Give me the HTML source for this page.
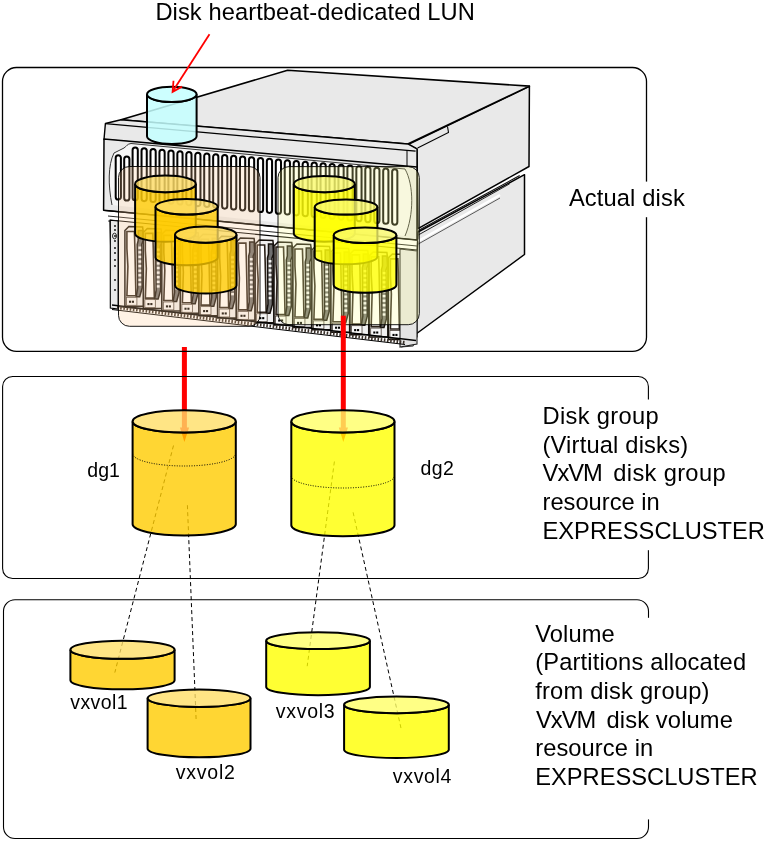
<!DOCTYPE html>
<html><head><meta charset="utf-8"><style>
html,body{margin:0;padding:0;background:#fff;width:766px;height:841px;overflow:hidden}
svg{display:block;will-change:transform}
</style></head><body>
<svg width="766" height="841" viewBox="0 0 766 841">
<g><polygon points="408.5,144.2 529.4,86.3 529,166.5 418,228.6 417,149" fill="#e9e9e9" stroke="#000" stroke-width="1.5" stroke-linejoin="round"/><polygon points="418,232 524.5,174.7 524.5,254.5 413.3,336" fill="#e9e9e9" stroke="#000" stroke-width="1.5" stroke-linejoin="round"/><polyline points="418.3,230.4 519.7,175.6" fill="none" stroke="#111" stroke-width="1.1"/><polyline points="418.3,235 509.7,183.8" fill="none" stroke="#222" stroke-width="1"/><polyline points="418.3,241 500,195" fill="none" stroke="#fff" stroke-width="2.5"/><polyline points="418.3,244 500,198" fill="none" stroke="#333" stroke-width="0.8"/><polygon points="401,326 413.3,324 413.3,346 401,347" fill="#e6e6e6" stroke="#333" stroke-width="1"/><polygon points="121,119.7 287.6,70.3 529.4,86.1 407.8,144" fill="#e9e9e9" stroke="#000" stroke-width="1.6" stroke-linejoin="round"/><polyline points="417.6,148 448.5,132.5 447.5,126.5" fill="none" stroke="#000" stroke-width="1.1"/><polygon points="105.4,123.5 121,119.7 407.8,144 417,149 417,168 104,139.5" fill="#e9e9e9" stroke="#000" stroke-width="1.4" stroke-linejoin="round"/><line x1="105.4" y1="123.7" x2="415.6" y2="151.2" stroke="#000" stroke-width="1.3"/><line x1="407" y1="150" x2="407" y2="166" stroke="#000" stroke-width="1"/><polygon points="104,139 417,167 417,240 103.6,210.3" fill="#e9e9e9" stroke="#000" stroke-width="1.5" stroke-linejoin="round"/><path d="M112,205 C108,185 108,165 114,153 L124,148 C127,146 127,144 131,143.5 L405,169 C414,185 414,215 405,236" fill="#f6f6f6" stroke="#333" stroke-width="1"/><path d="M115.70,196.90 L115.70,157.80 A2.60,2.60 0 0 1 120.90,157.80 L120.90,196.90 A2.60,2.60 0 0 1 115.70,196.90 Z" fill="#fff" stroke="#000" stroke-width="2.0"/><path d="M124.20,197.90 L124.20,159.10 A2.60,2.60 0 0 1 129.40,159.10 L129.40,197.90 A2.60,2.60 0 0 1 124.20,197.90 Z" fill="#fff" stroke="#000" stroke-width="2.0"/><path d="M132.60,197.70 L132.60,150.00 A2.60,2.60 0 0 1 137.80,150.00 L137.80,197.70 A2.60,2.60 0 0 1 132.60,197.70 Z" fill="#fff" stroke="#000" stroke-width="2.0"/><path d="M141.55,198.54 L141.55,150.75 A2.60,2.60 0 0 1 146.75,150.75 L146.75,198.54 A2.60,2.60 0 0 1 141.55,198.54 Z" fill="#fff" stroke="#000" stroke-width="2.0"/><path d="M150.50,199.38 L150.50,151.50 A2.60,2.60 0 0 1 155.70,151.50 L155.70,199.38 A2.60,2.60 0 0 1 150.50,199.38 Z" fill="#fff" stroke="#000" stroke-width="2.0"/><path d="M159.45,200.22 L159.45,152.26 A2.60,2.60 0 0 1 164.65,152.26 L164.65,200.22 A2.60,2.60 0 0 1 159.45,200.22 Z" fill="#fff" stroke="#000" stroke-width="2.0"/><path d="M168.40,201.07 L168.40,153.01 A2.60,2.60 0 0 1 173.60,153.01 L173.60,201.07 A2.60,2.60 0 0 1 168.40,201.07 Z" fill="#fff" stroke="#000" stroke-width="2.0"/><path d="M177.35,201.91 L177.35,153.76 A2.60,2.60 0 0 1 182.55,153.76 L182.55,201.91 A2.60,2.60 0 0 1 177.35,201.91 Z" fill="#fff" stroke="#000" stroke-width="2.0"/><path d="M186.30,202.75 L186.30,154.51 A2.60,2.60 0 0 1 191.50,154.51 L191.50,202.75 A2.60,2.60 0 0 1 186.30,202.75 Z" fill="#fff" stroke="#000" stroke-width="2.0"/><path d="M195.25,203.59 L195.25,155.26 A2.60,2.60 0 0 1 200.45,155.26 L200.45,203.59 A2.60,2.60 0 0 1 195.25,203.59 Z" fill="#fff" stroke="#000" stroke-width="2.0"/><path d="M204.20,204.43 L204.20,156.01 A2.60,2.60 0 0 1 209.40,156.01 L209.40,204.43 A2.60,2.60 0 0 1 204.20,204.43 Z" fill="#fff" stroke="#000" stroke-width="2.0"/><path d="M213.15,205.27 L213.15,156.77 A2.60,2.60 0 0 1 218.35,156.77 L218.35,205.27 A2.60,2.60 0 0 1 213.15,205.27 Z" fill="#fff" stroke="#000" stroke-width="2.0"/><path d="M222.10,206.11 L222.10,157.52 A2.60,2.60 0 0 1 227.30,157.52 L227.30,206.11 A2.60,2.60 0 0 1 222.10,206.11 Z" fill="#fff" stroke="#000" stroke-width="2.0"/><path d="M231.05,206.95 L231.05,158.27 A2.60,2.60 0 0 1 236.25,158.27 L236.25,206.95 A2.60,2.60 0 0 1 231.05,206.95 Z" fill="#fff" stroke="#000" stroke-width="2.0"/><path d="M240.00,207.80 L240.00,159.02 A2.60,2.60 0 0 1 245.20,159.02 L245.20,207.80 A2.60,2.60 0 0 1 240.00,207.80 Z" fill="#fff" stroke="#000" stroke-width="2.0"/><path d="M248.95,208.64 L248.95,159.77 A2.60,2.60 0 0 1 254.15,159.77 L254.15,208.64 A2.60,2.60 0 0 1 248.95,208.64 Z" fill="#fff" stroke="#000" stroke-width="2.0"/><path d="M257.90,209.48 L257.90,160.53 A2.60,2.60 0 0 1 263.10,160.53 L263.10,209.48 A2.60,2.60 0 0 1 257.90,209.48 Z" fill="#fff" stroke="#000" stroke-width="2.0"/><path d="M266.85,210.32 L266.85,161.28 A2.60,2.60 0 0 1 272.05,161.28 L272.05,210.32 A2.60,2.60 0 0 1 266.85,210.32 Z" fill="#fff" stroke="#000" stroke-width="2.0"/><path d="M275.80,211.16 L275.80,162.03 A2.60,2.60 0 0 1 281.00,162.03 L281.00,211.16 A2.60,2.60 0 0 1 275.80,211.16 Z" fill="#fff" stroke="#000" stroke-width="2.0"/><path d="M284.75,212.00 L284.75,162.78 A2.60,2.60 0 0 1 289.95,162.78 L289.95,212.00 A2.60,2.60 0 0 1 284.75,212.00 Z" fill="#fff" stroke="#000" stroke-width="2.0"/><path d="M293.70,212.84 L293.70,163.53 A2.60,2.60 0 0 1 298.90,163.53 L298.90,212.84 A2.60,2.60 0 0 1 293.70,212.84 Z" fill="#fff" stroke="#000" stroke-width="2.0"/><path d="M302.65,213.68 L302.65,164.28 A2.60,2.60 0 0 1 307.85,164.28 L307.85,213.68 A2.60,2.60 0 0 1 302.65,213.68 Z" fill="#fff" stroke="#000" stroke-width="2.0"/><path d="M311.60,214.53 L311.60,165.04 A2.60,2.60 0 0 1 316.80,165.04 L316.80,214.53 A2.60,2.60 0 0 1 311.60,214.53 Z" fill="#fff" stroke="#000" stroke-width="2.0"/><path d="M320.55,215.37 L320.55,165.79 A2.60,2.60 0 0 1 325.75,165.79 L325.75,215.37 A2.60,2.60 0 0 1 320.55,215.37 Z" fill="#fff" stroke="#000" stroke-width="2.0"/><path d="M329.50,216.21 L329.50,166.54 A2.60,2.60 0 0 1 334.70,166.54 L334.70,216.21 A2.60,2.60 0 0 1 329.50,216.21 Z" fill="#fff" stroke="#000" stroke-width="2.0"/><path d="M338.45,217.05 L338.45,167.29 A2.60,2.60 0 0 1 343.65,167.29 L343.65,217.05 A2.60,2.60 0 0 1 338.45,217.05 Z" fill="#fff" stroke="#000" stroke-width="2.0"/><path d="M347.40,217.89 L347.40,168.04 A2.60,2.60 0 0 1 352.60,168.04 L352.60,217.89 A2.60,2.60 0 0 1 347.40,217.89 Z" fill="#fff" stroke="#000" stroke-width="2.0"/><path d="M356.35,218.73 L356.35,168.79 A2.60,2.60 0 0 1 361.55,168.79 L361.55,218.73 A2.60,2.60 0 0 1 356.35,218.73 Z" fill="#fff" stroke="#000" stroke-width="2.0"/><path d="M365.30,219.57 L365.30,169.55 A2.60,2.60 0 0 1 370.50,169.55 L370.50,219.57 A2.60,2.60 0 0 1 365.30,219.57 Z" fill="#fff" stroke="#000" stroke-width="2.0"/><path d="M374.25,220.42 L374.25,170.30 A2.60,2.60 0 0 1 379.45,170.30 L379.45,220.42 A2.60,2.60 0 0 1 374.25,220.42 Z" fill="#fff" stroke="#000" stroke-width="2.0"/><path d="M383.20,221.26 L383.20,171.05 A2.60,2.60 0 0 1 388.40,171.05 L388.40,221.26 A2.60,2.60 0 0 1 383.20,221.26 Z" fill="#fff" stroke="#000" stroke-width="2.0"/><path d="M392.15,222.10 L392.15,171.80 A2.60,2.60 0 0 1 397.35,171.80 L397.35,222.10 A2.60,2.60 0 0 1 392.15,222.10 Z" fill="#fff" stroke="#000" stroke-width="2.0"/><line x1="104" y1="210.3" x2="417" y2="240" stroke="#000" stroke-width="1.2"/><line x1="108" y1="216" x2="417" y2="246" stroke="#222" stroke-width="1"/><line x1="108" y1="221" x2="417" y2="252" stroke="#333" stroke-width="0.9"/><polygon points="110,220 417,250 417,337 112,306" fill="#f7f7f7" stroke="#000" stroke-width="1.2" stroke-linejoin="round"/><polygon points="110.3,220.3 118.1,221 118.1,309 110.3,308" fill="#e9e9e9" stroke="#000" stroke-width="1.1"/><circle cx="115" cy="226" r="0.9" fill="#000"/><circle cx="115" cy="230" r="0.9" fill="#000"/><circle cx="115" cy="236" r="0.9" fill="#000"/><circle cx="115" cy="241" r="0.9" fill="#000"/><circle cx="115" cy="248" r="0.9" fill="#000"/><circle cx="115" cy="253" r="0.9" fill="#000"/><circle cx="115" cy="260" r="0.9" fill="#000"/><circle cx="115" cy="266" r="0.9" fill="#000"/><circle cx="115" cy="280" r="0.9" fill="#000"/><circle cx="115" cy="290" r="0.9" fill="#000"/><ellipse cx="114.5" cy="236" rx="2" ry="2.8" fill="none" stroke="#000" stroke-width="0.8"/><path d="M124.90,230.50 L128.90,226.50 L142.60,227.00 L143.60,234.50 L143.60,306.30 L124.90,306.30 Z" fill="#f0f0f0" stroke="#15100c" stroke-width="1.5"/><path d="M126.90,231.50 L134.40,231.50 L134.90,248.50 L135.90,295.80 L126.90,295.80 L127.90,266.50 L126.90,248.50 Z" fill="#ffffff" stroke="#2a2018" stroke-width="1.6"/><path d="M138.20,230.50 L142.70,230.50 L143.20,240.50 L141.70,244.50 L142.20,287.80 L139.70,296.80 L136.20,296.80 L137.70,287.80 L137.20,244.50 L138.20,240.50 Z" fill="#6f6f6f" stroke="#15100c" stroke-width="1.5"/><rect x="138.40" y="246.50" width="2.8" height="2.4" fill="#f4f4f4"/><rect x="138.40" y="251.10" width="2.8" height="2.4" fill="#f4f4f4"/><rect x="138.40" y="255.70" width="2.8" height="2.4" fill="#f4f4f4"/><rect x="138.40" y="260.30" width="2.8" height="2.4" fill="#f4f4f4"/><rect x="138.40" y="264.90" width="2.8" height="2.4" fill="#f4f4f4"/><rect x="138.40" y="269.50" width="2.8" height="2.4" fill="#f4f4f4"/><rect x="138.40" y="274.10" width="2.8" height="2.4" fill="#f4f4f4"/><rect x="138.40" y="278.70" width="2.8" height="2.4" fill="#f4f4f4"/><rect x="138.40" y="283.30" width="2.8" height="2.4" fill="#f4f4f4"/><rect x="126.40" y="297.30" width="10.5" height="8" fill="#f8f8f8" stroke="#4a4038" stroke-width="0.8"/><rect x="129.00" y="300.70" width="2.1" height="2.1" fill="#000"/><rect x="131.90" y="300.70" width="2.1" height="2.1" fill="#000"/><path d="M143.33,232.42 L147.33,228.42 L161.03,228.92 L162.03,236.42 L162.03,308.62 L143.33,308.62 Z" fill="#f0f0f0" stroke="#15100c" stroke-width="1.5"/><path d="M145.33,233.42 L152.83,233.42 L153.33,250.42 L154.33,298.12 L145.33,298.12 L146.33,268.42 L145.33,250.42 Z" fill="#ffffff" stroke="#2a2018" stroke-width="1.6"/><path d="M156.63,232.42 L161.13,232.42 L161.63,242.42 L160.13,246.42 L160.63,290.12 L158.13,299.12 L154.63,299.12 L156.13,290.12 L155.63,246.42 L156.63,242.42 Z" fill="#6f6f6f" stroke="#15100c" stroke-width="1.5"/><rect x="156.83" y="248.42" width="2.8" height="2.4" fill="#f4f4f4"/><rect x="156.83" y="253.02" width="2.8" height="2.4" fill="#f4f4f4"/><rect x="156.83" y="257.62" width="2.8" height="2.4" fill="#f4f4f4"/><rect x="156.83" y="262.22" width="2.8" height="2.4" fill="#f4f4f4"/><rect x="156.83" y="266.82" width="2.8" height="2.4" fill="#f4f4f4"/><rect x="156.83" y="271.42" width="2.8" height="2.4" fill="#f4f4f4"/><rect x="156.83" y="276.02" width="2.8" height="2.4" fill="#f4f4f4"/><rect x="156.83" y="280.62" width="2.8" height="2.4" fill="#f4f4f4"/><rect x="156.83" y="285.22" width="2.8" height="2.4" fill="#f4f4f4"/><rect x="144.83" y="299.62" width="10.5" height="8" fill="#f8f8f8" stroke="#4a4038" stroke-width="0.8"/><rect x="147.43" y="303.02" width="2.1" height="2.1" fill="#000"/><rect x="150.33" y="303.02" width="2.1" height="2.1" fill="#000"/><path d="M161.82,234.34 L165.82,230.34 L179.52,230.84 L180.52,238.34 L180.52,310.95 L161.82,310.95 Z" fill="#f0f0f0" stroke="#15100c" stroke-width="1.5"/><path d="M163.82,235.34 L171.32,235.34 L171.82,252.34 L172.82,300.45 L163.82,300.45 L164.82,270.34 L163.82,252.34 Z" fill="#ffffff" stroke="#2a2018" stroke-width="1.6"/><path d="M175.12,234.34 L179.62,234.34 L180.12,244.34 L178.62,248.34 L179.12,292.45 L176.62,301.45 L173.12,301.45 L174.62,292.45 L174.12,248.34 L175.12,244.34 Z" fill="#6f6f6f" stroke="#15100c" stroke-width="1.5"/><rect x="175.32" y="250.34" width="2.8" height="2.4" fill="#f4f4f4"/><rect x="175.32" y="254.94" width="2.8" height="2.4" fill="#f4f4f4"/><rect x="175.32" y="259.54" width="2.8" height="2.4" fill="#f4f4f4"/><rect x="175.32" y="264.14" width="2.8" height="2.4" fill="#f4f4f4"/><rect x="175.32" y="268.74" width="2.8" height="2.4" fill="#f4f4f4"/><rect x="175.32" y="273.34" width="2.8" height="2.4" fill="#f4f4f4"/><rect x="175.32" y="277.94" width="2.8" height="2.4" fill="#f4f4f4"/><rect x="175.32" y="282.54" width="2.8" height="2.4" fill="#f4f4f4"/><rect x="175.32" y="287.14" width="2.8" height="2.4" fill="#f4f4f4"/><rect x="163.32" y="301.95" width="10.5" height="8" fill="#f8f8f8" stroke="#4a4038" stroke-width="0.8"/><rect x="165.92" y="305.35" width="2.1" height="2.1" fill="#000"/><rect x="168.82" y="305.35" width="2.1" height="2.1" fill="#000"/><path d="M180.37,236.27 L184.37,232.27 L198.07,232.77 L199.07,240.27 L199.07,313.29 L180.37,313.29 Z" fill="#f0f0f0" stroke="#15100c" stroke-width="1.5"/><path d="M182.37,237.27 L189.87,237.27 L190.37,254.27 L191.37,302.79 L182.37,302.79 L183.37,272.27 L182.37,254.27 Z" fill="#ffffff" stroke="#2a2018" stroke-width="1.6"/><path d="M193.67,236.27 L198.17,236.27 L198.67,246.27 L197.17,250.27 L197.67,294.79 L195.17,303.79 L191.67,303.79 L193.17,294.79 L192.67,250.27 L193.67,246.27 Z" fill="#6f6f6f" stroke="#15100c" stroke-width="1.5"/><rect x="193.87" y="252.27" width="2.8" height="2.4" fill="#f4f4f4"/><rect x="193.87" y="256.87" width="2.8" height="2.4" fill="#f4f4f4"/><rect x="193.87" y="261.47" width="2.8" height="2.4" fill="#f4f4f4"/><rect x="193.87" y="266.07" width="2.8" height="2.4" fill="#f4f4f4"/><rect x="193.87" y="270.67" width="2.8" height="2.4" fill="#f4f4f4"/><rect x="193.87" y="275.27" width="2.8" height="2.4" fill="#f4f4f4"/><rect x="193.87" y="279.87" width="2.8" height="2.4" fill="#f4f4f4"/><rect x="193.87" y="284.47" width="2.8" height="2.4" fill="#f4f4f4"/><rect x="193.87" y="289.07" width="2.8" height="2.4" fill="#f4f4f4"/><rect x="181.87" y="304.29" width="10.5" height="8" fill="#f8f8f8" stroke="#4a4038" stroke-width="0.8"/><rect x="184.47" y="307.69" width="2.1" height="2.1" fill="#000"/><rect x="187.37" y="307.69" width="2.1" height="2.1" fill="#000"/><path d="M198.98,238.20 L202.98,234.20 L216.68,234.70 L217.68,242.20 L217.68,315.63 L198.98,315.63 Z" fill="#f0f0f0" stroke="#15100c" stroke-width="1.5"/><path d="M200.98,239.20 L208.48,239.20 L208.98,256.20 L209.98,305.13 L200.98,305.13 L201.98,274.20 L200.98,256.20 Z" fill="#ffffff" stroke="#2a2018" stroke-width="1.6"/><path d="M212.28,238.20 L216.78,238.20 L217.28,248.20 L215.78,252.20 L216.28,297.13 L213.78,306.13 L210.28,306.13 L211.78,297.13 L211.28,252.20 L212.28,248.20 Z" fill="#6f6f6f" stroke="#15100c" stroke-width="1.5"/><rect x="212.48" y="254.20" width="2.8" height="2.4" fill="#f4f4f4"/><rect x="212.48" y="258.80" width="2.8" height="2.4" fill="#f4f4f4"/><rect x="212.48" y="263.40" width="2.8" height="2.4" fill="#f4f4f4"/><rect x="212.48" y="268.00" width="2.8" height="2.4" fill="#f4f4f4"/><rect x="212.48" y="272.60" width="2.8" height="2.4" fill="#f4f4f4"/><rect x="212.48" y="277.20" width="2.8" height="2.4" fill="#f4f4f4"/><rect x="212.48" y="281.80" width="2.8" height="2.4" fill="#f4f4f4"/><rect x="212.48" y="286.40" width="2.8" height="2.4" fill="#f4f4f4"/><rect x="212.48" y="291.00" width="2.8" height="2.4" fill="#f4f4f4"/><rect x="200.48" y="306.63" width="10.5" height="8" fill="#f8f8f8" stroke="#4a4038" stroke-width="0.8"/><rect x="203.08" y="310.03" width="2.1" height="2.1" fill="#000"/><rect x="205.98" y="310.03" width="2.1" height="2.1" fill="#000"/><path d="M217.65,240.15 L221.65,236.15 L235.35,236.65 L236.35,244.15 L236.35,317.99 L217.65,317.99 Z" fill="#f0f0f0" stroke="#15100c" stroke-width="1.5"/><path d="M219.65,241.15 L227.15,241.15 L227.65,258.15 L228.65,307.49 L219.65,307.49 L220.65,276.15 L219.65,258.15 Z" fill="#ffffff" stroke="#2a2018" stroke-width="1.6"/><path d="M230.95,240.15 L235.45,240.15 L235.95,250.15 L234.45,254.15 L234.95,299.49 L232.45,308.49 L228.95,308.49 L230.45,299.49 L229.95,254.15 L230.95,250.15 Z" fill="#6f6f6f" stroke="#15100c" stroke-width="1.5"/><rect x="231.15" y="256.15" width="2.8" height="2.4" fill="#f4f4f4"/><rect x="231.15" y="260.75" width="2.8" height="2.4" fill="#f4f4f4"/><rect x="231.15" y="265.35" width="2.8" height="2.4" fill="#f4f4f4"/><rect x="231.15" y="269.95" width="2.8" height="2.4" fill="#f4f4f4"/><rect x="231.15" y="274.55" width="2.8" height="2.4" fill="#f4f4f4"/><rect x="231.15" y="279.15" width="2.8" height="2.4" fill="#f4f4f4"/><rect x="231.15" y="283.75" width="2.8" height="2.4" fill="#f4f4f4"/><rect x="231.15" y="288.35" width="2.8" height="2.4" fill="#f4f4f4"/><rect x="231.15" y="292.95" width="2.8" height="2.4" fill="#f4f4f4"/><rect x="219.15" y="308.99" width="10.5" height="8" fill="#f8f8f8" stroke="#4a4038" stroke-width="0.8"/><rect x="221.75" y="312.39" width="2.1" height="2.1" fill="#000"/><rect x="224.65" y="312.39" width="2.1" height="2.1" fill="#000"/><path d="M236.38,242.09 L240.38,238.09 L254.08,238.59 L255.08,246.09 L255.08,320.35 L236.38,320.35 Z" fill="#f0f0f0" stroke="#15100c" stroke-width="1.5"/><path d="M238.38,243.09 L245.88,243.09 L246.38,260.09 L247.38,309.85 L238.38,309.85 L239.38,278.09 L238.38,260.09 Z" fill="#ffffff" stroke="#2a2018" stroke-width="1.6"/><path d="M249.68,242.09 L254.18,242.09 L254.68,252.09 L253.18,256.09 L253.68,301.85 L251.18,310.85 L247.68,310.85 L249.18,301.85 L248.68,256.09 L249.68,252.09 Z" fill="#6f6f6f" stroke="#15100c" stroke-width="1.5"/><rect x="249.88" y="258.09" width="2.8" height="2.4" fill="#f4f4f4"/><rect x="249.88" y="262.69" width="2.8" height="2.4" fill="#f4f4f4"/><rect x="249.88" y="267.29" width="2.8" height="2.4" fill="#f4f4f4"/><rect x="249.88" y="271.89" width="2.8" height="2.4" fill="#f4f4f4"/><rect x="249.88" y="276.49" width="2.8" height="2.4" fill="#f4f4f4"/><rect x="249.88" y="281.09" width="2.8" height="2.4" fill="#f4f4f4"/><rect x="249.88" y="285.69" width="2.8" height="2.4" fill="#f4f4f4"/><rect x="249.88" y="290.29" width="2.8" height="2.4" fill="#f4f4f4"/><rect x="249.88" y="294.89" width="2.8" height="2.4" fill="#f4f4f4"/><rect x="237.88" y="311.35" width="10.5" height="8" fill="#f8f8f8" stroke="#4a4038" stroke-width="0.8"/><rect x="240.48" y="314.75" width="2.1" height="2.1" fill="#000"/><rect x="243.38" y="314.75" width="2.1" height="2.1" fill="#000"/><path d="M255.17,244.05 L259.17,240.05 L272.87,240.55 L273.87,248.05 L273.87,322.71 L255.17,322.71 Z" fill="#f0f0f0" stroke="#15100c" stroke-width="1.5"/><path d="M257.17,245.05 L264.67,245.05 L265.17,262.05 L266.17,312.21 L257.17,312.21 L258.17,280.05 L257.17,262.05 Z" fill="#ffffff" stroke="#2a2018" stroke-width="1.6"/><path d="M268.47,244.05 L272.97,244.05 L273.47,254.05 L271.97,258.05 L272.47,304.21 L269.97,313.21 L266.47,313.21 L267.97,304.21 L267.47,258.05 L268.47,254.05 Z" fill="#6f6f6f" stroke="#15100c" stroke-width="1.5"/><rect x="268.67" y="260.05" width="2.8" height="2.4" fill="#f4f4f4"/><rect x="268.67" y="264.65" width="2.8" height="2.4" fill="#f4f4f4"/><rect x="268.67" y="269.25" width="2.8" height="2.4" fill="#f4f4f4"/><rect x="268.67" y="273.85" width="2.8" height="2.4" fill="#f4f4f4"/><rect x="268.67" y="278.45" width="2.8" height="2.4" fill="#f4f4f4"/><rect x="268.67" y="283.05" width="2.8" height="2.4" fill="#f4f4f4"/><rect x="268.67" y="287.65" width="2.8" height="2.4" fill="#f4f4f4"/><rect x="268.67" y="292.25" width="2.8" height="2.4" fill="#f4f4f4"/><rect x="268.67" y="296.85" width="2.8" height="2.4" fill="#f4f4f4"/><rect x="256.67" y="313.71" width="10.5" height="8" fill="#f8f8f8" stroke="#4a4038" stroke-width="0.8"/><rect x="259.27" y="317.11" width="2.1" height="2.1" fill="#000"/><rect x="262.17" y="317.11" width="2.1" height="2.1" fill="#000"/><path d="M274.02,246.01 L278.02,242.01 L291.72,242.51 L292.72,250.01 L292.72,325.09 L274.02,325.09 Z" fill="#f0f0f0" stroke="#15100c" stroke-width="1.5"/><path d="M276.02,247.01 L283.52,247.01 L284.02,264.01 L285.02,314.59 L276.02,314.59 L277.02,282.01 L276.02,264.01 Z" fill="#ffffff" stroke="#2a2018" stroke-width="1.6"/><path d="M287.32,246.01 L291.82,246.01 L292.32,256.01 L290.82,260.01 L291.32,306.59 L288.82,315.59 L285.32,315.59 L286.82,306.59 L286.32,260.01 L287.32,256.01 Z" fill="#6f6f6f" stroke="#15100c" stroke-width="1.5"/><rect x="287.52" y="262.01" width="2.8" height="2.4" fill="#f4f4f4"/><rect x="287.52" y="266.61" width="2.8" height="2.4" fill="#f4f4f4"/><rect x="287.52" y="271.21" width="2.8" height="2.4" fill="#f4f4f4"/><rect x="287.52" y="275.81" width="2.8" height="2.4" fill="#f4f4f4"/><rect x="287.52" y="280.41" width="2.8" height="2.4" fill="#f4f4f4"/><rect x="287.52" y="285.01" width="2.8" height="2.4" fill="#f4f4f4"/><rect x="287.52" y="289.61" width="2.8" height="2.4" fill="#f4f4f4"/><rect x="287.52" y="294.21" width="2.8" height="2.4" fill="#f4f4f4"/><rect x="287.52" y="298.81" width="2.8" height="2.4" fill="#f4f4f4"/><rect x="287.52" y="303.41" width="2.8" height="2.4" fill="#f4f4f4"/><rect x="275.52" y="316.09" width="10.5" height="8" fill="#f8f8f8" stroke="#4a4038" stroke-width="0.8"/><rect x="278.12" y="319.49" width="2.1" height="2.1" fill="#000"/><rect x="281.02" y="319.49" width="2.1" height="2.1" fill="#000"/><path d="M292.93,247.98 L296.93,243.98 L310.63,244.48 L311.63,251.98 L311.63,327.47 L292.93,327.47 Z" fill="#f0f0f0" stroke="#15100c" stroke-width="1.5"/><path d="M294.93,248.98 L302.43,248.98 L302.93,265.98 L303.93,316.97 L294.93,316.97 L295.93,283.98 L294.93,265.98 Z" fill="#ffffff" stroke="#2a2018" stroke-width="1.6"/><path d="M306.23,247.98 L310.73,247.98 L311.23,257.98 L309.73,261.98 L310.23,308.97 L307.73,317.97 L304.23,317.97 L305.73,308.97 L305.23,261.98 L306.23,257.98 Z" fill="#6f6f6f" stroke="#15100c" stroke-width="1.5"/><rect x="306.43" y="263.98" width="2.8" height="2.4" fill="#f4f4f4"/><rect x="306.43" y="268.58" width="2.8" height="2.4" fill="#f4f4f4"/><rect x="306.43" y="273.18" width="2.8" height="2.4" fill="#f4f4f4"/><rect x="306.43" y="277.78" width="2.8" height="2.4" fill="#f4f4f4"/><rect x="306.43" y="282.38" width="2.8" height="2.4" fill="#f4f4f4"/><rect x="306.43" y="286.98" width="2.8" height="2.4" fill="#f4f4f4"/><rect x="306.43" y="291.58" width="2.8" height="2.4" fill="#f4f4f4"/><rect x="306.43" y="296.18" width="2.8" height="2.4" fill="#f4f4f4"/><rect x="306.43" y="300.78" width="2.8" height="2.4" fill="#f4f4f4"/><rect x="306.43" y="305.38" width="2.8" height="2.4" fill="#f4f4f4"/><rect x="294.43" y="318.47" width="10.5" height="8" fill="#f8f8f8" stroke="#4a4038" stroke-width="0.8"/><rect x="297.03" y="321.87" width="2.1" height="2.1" fill="#000"/><rect x="299.93" y="321.87" width="2.1" height="2.1" fill="#000"/><path d="M311.90,249.95 L315.90,245.95 L329.60,246.45 L330.60,253.95 L330.60,329.86 L311.90,329.86 Z" fill="#f0f0f0" stroke="#15100c" stroke-width="1.5"/><path d="M313.90,250.95 L321.40,250.95 L321.90,267.95 L322.90,319.36 L313.90,319.36 L314.90,285.95 L313.90,267.95 Z" fill="#ffffff" stroke="#2a2018" stroke-width="1.6"/><path d="M325.20,249.95 L329.70,249.95 L330.20,259.95 L328.70,263.95 L329.20,311.36 L326.70,320.36 L323.20,320.36 L324.70,311.36 L324.20,263.95 L325.20,259.95 Z" fill="#6f6f6f" stroke="#15100c" stroke-width="1.5"/><rect x="325.40" y="265.95" width="2.8" height="2.4" fill="#f4f4f4"/><rect x="325.40" y="270.55" width="2.8" height="2.4" fill="#f4f4f4"/><rect x="325.40" y="275.15" width="2.8" height="2.4" fill="#f4f4f4"/><rect x="325.40" y="279.75" width="2.8" height="2.4" fill="#f4f4f4"/><rect x="325.40" y="284.35" width="2.8" height="2.4" fill="#f4f4f4"/><rect x="325.40" y="288.95" width="2.8" height="2.4" fill="#f4f4f4"/><rect x="325.40" y="293.55" width="2.8" height="2.4" fill="#f4f4f4"/><rect x="325.40" y="298.15" width="2.8" height="2.4" fill="#f4f4f4"/><rect x="325.40" y="302.75" width="2.8" height="2.4" fill="#f4f4f4"/><rect x="325.40" y="307.35" width="2.8" height="2.4" fill="#f4f4f4"/><rect x="313.40" y="320.86" width="10.5" height="8" fill="#f8f8f8" stroke="#4a4038" stroke-width="0.8"/><rect x="316.00" y="324.26" width="2.1" height="2.1" fill="#000"/><rect x="318.90" y="324.26" width="2.1" height="2.1" fill="#000"/><path d="M330.93,251.93 L334.93,247.93 L348.63,248.43 L349.63,255.93 L349.63,332.26 L330.93,332.26 Z" fill="#f0f0f0" stroke="#15100c" stroke-width="1.5"/><path d="M332.93,252.93 L340.43,252.93 L340.93,269.93 L341.93,321.76 L332.93,321.76 L333.93,287.93 L332.93,269.93 Z" fill="#ffffff" stroke="#2a2018" stroke-width="1.6"/><path d="M344.23,251.93 L348.73,251.93 L349.23,261.93 L347.73,265.93 L348.23,313.76 L345.73,322.76 L342.23,322.76 L343.73,313.76 L343.23,265.93 L344.23,261.93 Z" fill="#6f6f6f" stroke="#15100c" stroke-width="1.5"/><rect x="344.43" y="267.93" width="2.8" height="2.4" fill="#f4f4f4"/><rect x="344.43" y="272.53" width="2.8" height="2.4" fill="#f4f4f4"/><rect x="344.43" y="277.13" width="2.8" height="2.4" fill="#f4f4f4"/><rect x="344.43" y="281.73" width="2.8" height="2.4" fill="#f4f4f4"/><rect x="344.43" y="286.33" width="2.8" height="2.4" fill="#f4f4f4"/><rect x="344.43" y="290.93" width="2.8" height="2.4" fill="#f4f4f4"/><rect x="344.43" y="295.53" width="2.8" height="2.4" fill="#f4f4f4"/><rect x="344.43" y="300.13" width="2.8" height="2.4" fill="#f4f4f4"/><rect x="344.43" y="304.73" width="2.8" height="2.4" fill="#f4f4f4"/><rect x="344.43" y="309.33" width="2.8" height="2.4" fill="#f4f4f4"/><rect x="332.43" y="323.26" width="10.5" height="8" fill="#f8f8f8" stroke="#4a4038" stroke-width="0.8"/><rect x="335.03" y="326.66" width="2.1" height="2.1" fill="#000"/><rect x="337.93" y="326.66" width="2.1" height="2.1" fill="#000"/><path d="M350.02,253.91 L354.02,249.91 L367.72,250.41 L368.72,257.91 L368.72,334.67 L350.02,334.67 Z" fill="#f0f0f0" stroke="#15100c" stroke-width="1.5"/><path d="M352.02,254.91 L359.52,254.91 L360.02,271.91 L361.02,324.17 L352.02,324.17 L353.02,289.91 L352.02,271.91 Z" fill="#ffffff" stroke="#2a2018" stroke-width="1.6"/><path d="M363.32,253.91 L367.82,253.91 L368.32,263.91 L366.82,267.91 L367.32,316.17 L364.82,325.17 L361.32,325.17 L362.82,316.17 L362.32,267.91 L363.32,263.91 Z" fill="#6f6f6f" stroke="#15100c" stroke-width="1.5"/><rect x="363.52" y="269.91" width="2.8" height="2.4" fill="#f4f4f4"/><rect x="363.52" y="274.51" width="2.8" height="2.4" fill="#f4f4f4"/><rect x="363.52" y="279.11" width="2.8" height="2.4" fill="#f4f4f4"/><rect x="363.52" y="283.71" width="2.8" height="2.4" fill="#f4f4f4"/><rect x="363.52" y="288.31" width="2.8" height="2.4" fill="#f4f4f4"/><rect x="363.52" y="292.91" width="2.8" height="2.4" fill="#f4f4f4"/><rect x="363.52" y="297.51" width="2.8" height="2.4" fill="#f4f4f4"/><rect x="363.52" y="302.11" width="2.8" height="2.4" fill="#f4f4f4"/><rect x="363.52" y="306.71" width="2.8" height="2.4" fill="#f4f4f4"/><rect x="363.52" y="311.31" width="2.8" height="2.4" fill="#f4f4f4"/><rect x="351.52" y="325.67" width="10.5" height="8" fill="#f8f8f8" stroke="#4a4038" stroke-width="0.8"/><rect x="354.12" y="329.07" width="2.1" height="2.1" fill="#000"/><rect x="357.02" y="329.07" width="2.1" height="2.1" fill="#000"/><path d="M369.17,255.90 L373.17,251.90 L386.87,252.40 L387.87,259.90 L387.87,337.08 L369.17,337.08 Z" fill="#f0f0f0" stroke="#15100c" stroke-width="1.5"/><path d="M371.17,256.90 L378.67,256.90 L379.17,273.90 L380.17,326.58 L371.17,326.58 L372.17,291.90 L371.17,273.90 Z" fill="#ffffff" stroke="#2a2018" stroke-width="1.6"/><path d="M382.47,255.90 L386.97,255.90 L387.47,265.90 L385.97,269.90 L386.47,318.58 L383.97,327.58 L380.47,327.58 L381.97,318.58 L381.47,269.90 L382.47,265.90 Z" fill="#6f6f6f" stroke="#15100c" stroke-width="1.5"/><rect x="382.67" y="271.90" width="2.8" height="2.4" fill="#f4f4f4"/><rect x="382.67" y="276.50" width="2.8" height="2.4" fill="#f4f4f4"/><rect x="382.67" y="281.10" width="2.8" height="2.4" fill="#f4f4f4"/><rect x="382.67" y="285.70" width="2.8" height="2.4" fill="#f4f4f4"/><rect x="382.67" y="290.30" width="2.8" height="2.4" fill="#f4f4f4"/><rect x="382.67" y="294.90" width="2.8" height="2.4" fill="#f4f4f4"/><rect x="382.67" y="299.50" width="2.8" height="2.4" fill="#f4f4f4"/><rect x="382.67" y="304.10" width="2.8" height="2.4" fill="#f4f4f4"/><rect x="382.67" y="308.70" width="2.8" height="2.4" fill="#f4f4f4"/><rect x="382.67" y="313.30" width="2.8" height="2.4" fill="#f4f4f4"/><rect x="370.67" y="328.08" width="10.5" height="8" fill="#f8f8f8" stroke="#4a4038" stroke-width="0.8"/><rect x="373.27" y="331.48" width="2.1" height="2.1" fill="#000"/><rect x="376.17" y="331.48" width="2.1" height="2.1" fill="#000"/><path d="M388.38,257.90 L392.38,253.90 L406.08,254.40 L407.08,261.90 L407.08,339.50 L388.38,339.50 Z" fill="#f0f0f0" stroke="#15100c" stroke-width="1.5"/><path d="M390.38,258.90 L397.88,258.90 L398.38,275.90 L399.38,329.00 L390.38,329.00 L391.38,293.90 L390.38,275.90 Z" fill="#ffffff" stroke="#2a2018" stroke-width="1.6"/><path d="M401.68,257.90 L406.18,257.90 L406.68,267.90 L405.18,271.90 L405.68,321.00 L403.18,330.00 L399.68,330.00 L401.18,321.00 L400.68,271.90 L401.68,267.90 Z" fill="#6f6f6f" stroke="#15100c" stroke-width="1.5"/><rect x="401.88" y="273.90" width="2.8" height="2.4" fill="#f4f4f4"/><rect x="401.88" y="278.50" width="2.8" height="2.4" fill="#f4f4f4"/><rect x="401.88" y="283.10" width="2.8" height="2.4" fill="#f4f4f4"/><rect x="401.88" y="287.70" width="2.8" height="2.4" fill="#f4f4f4"/><rect x="401.88" y="292.30" width="2.8" height="2.4" fill="#f4f4f4"/><rect x="401.88" y="296.90" width="2.8" height="2.4" fill="#f4f4f4"/><rect x="401.88" y="301.50" width="2.8" height="2.4" fill="#f4f4f4"/><rect x="401.88" y="306.10" width="2.8" height="2.4" fill="#f4f4f4"/><rect x="401.88" y="310.70" width="2.8" height="2.4" fill="#f4f4f4"/><rect x="401.88" y="315.30" width="2.8" height="2.4" fill="#f4f4f4"/><rect x="389.88" y="330.50" width="10.5" height="8" fill="#f8f8f8" stroke="#4a4038" stroke-width="0.8"/><rect x="392.48" y="333.90" width="2.1" height="2.1" fill="#000"/><rect x="395.38" y="333.90" width="2.1" height="2.1" fill="#000"/><polygon points="400,249 417,251 417,344 400,347" fill="#e4e4e4" stroke="#222" stroke-width="1.1"/><line x1="117" y1="307.5" x2="405" y2="342.5" stroke="#3a3028" stroke-width="3.2" stroke-dasharray="1.6,1.6"/><line x1="112" y1="305" x2="416" y2="340.5" stroke="#000" stroke-width="1.3"/><line x1="112" y1="309.5" x2="405" y2="344.5" stroke="#000" stroke-width="1.1"/></g><rect x="118.5" y="166.5" width="141.5" height="159.8" rx="11" ry="11" fill="rgb(255,204,153)" fill-opacity="0.25" stroke="#000" stroke-width="0.9"/><rect x="278" y="166.6" width="141.3" height="158.1" rx="11" ry="11" fill="rgb(255,255,153)" fill-opacity="0.25" stroke="#000" stroke-width="0.9"/><g><path d="M135.10,183.90 L135.10,233.50 A30.35,8.30 0 0 0 195.80,233.50 L195.80,183.90 A30.35,8.30 0 0 1 135.10,183.90 Z" fill="rgb(255,204,0)" fill-opacity="0.78" stroke="#000" stroke-width="2"/><ellipse cx="165.45" cy="183.90" rx="30.35" ry="8.30" fill="rgb(252,220,100)" fill-opacity="0.78" stroke="#000" stroke-width="2"/></g><g><path d="M155.50,206.80 L155.50,257.60 A31.10,7.70 0 0 0 217.70,257.60 L217.70,206.80 A31.10,7.70 0 0 1 155.50,206.80 Z" fill="rgb(255,204,0)" fill-opacity="0.78" stroke="#000" stroke-width="2"/><ellipse cx="186.60" cy="206.80" rx="31.10" ry="7.70" fill="rgb(252,220,100)" fill-opacity="0.78" stroke="#000" stroke-width="2"/></g><g><path d="M175.00,234.65 L175.00,285.45 A30.75,8.05 0 0 0 236.50,285.45 L236.50,234.65 A30.75,8.05 0 0 1 175.00,234.65 Z" fill="rgb(255,204,0)" fill-opacity="0.78" stroke="#000" stroke-width="2"/><ellipse cx="205.75" cy="234.65" rx="30.75" ry="8.05" fill="rgb(252,220,100)" fill-opacity="0.78" stroke="#000" stroke-width="2"/></g><g><path d="M293.80,184.05 L293.80,233.55 A30.50,8.15 0 0 0 354.80,233.55 L354.80,184.05 A30.50,8.15 0 0 1 293.80,184.05 Z" fill="rgb(255,255,0)" fill-opacity="0.78" stroke="#000" stroke-width="2"/><ellipse cx="324.30" cy="184.05" rx="30.50" ry="8.15" fill="rgb(250,250,110)" fill-opacity="0.78" stroke="#000" stroke-width="2"/></g><g><path d="M314.70,207.10 L314.70,256.80 A31.35,7.50 0 0 0 377.40,256.80 L377.40,207.10 A31.35,7.50 0 0 1 314.70,207.10 Z" fill="rgb(255,255,0)" fill-opacity="0.78" stroke="#000" stroke-width="2"/><ellipse cx="346.05" cy="207.10" rx="31.35" ry="7.50" fill="rgb(250,250,110)" fill-opacity="0.78" stroke="#000" stroke-width="2"/></g><g><path d="M333.70,235.30 L333.70,285.00 A31.35,7.80 0 0 0 396.40,285.00 L396.40,235.30 A31.35,7.80 0 0 1 333.70,235.30 Z" fill="rgb(255,255,0)" fill-opacity="0.78" stroke="#000" stroke-width="2"/><ellipse cx="365.05" cy="235.30" rx="31.35" ry="7.80" fill="rgb(250,250,110)" fill-opacity="0.78" stroke="#000" stroke-width="2"/></g><g><path d="M147.00,94.30 L147.00,136.30 A24.80,7.60 0 0 0 196.60,136.30 L196.60,94.30 A24.80,7.60 0 0 1 147.00,94.30 Z" fill="#c4ffff" fill-opacity="0.85" stroke="#000" stroke-width="2"/><ellipse cx="171.80" cy="94.30" rx="24.80" ry="7.60" fill="#c4ffff" fill-opacity="0.85" stroke="#000" stroke-width="2"/></g><rect x="181.9" y="347" width="5" height="82" fill="#f00"/><polygon points="179.9,427.5 189.1,427.5 184.4,442" fill="#f00"/><rect x="340.8" y="315.7" width="5" height="113" fill="#f00"/><polygon points="338.8,427.5 348,427.5 343.3,442" fill="#f00"/><g stroke="#000" stroke-width="1" stroke-dasharray="4,3" fill="none"><line x1="173.5" y1="445.5" x2="114.8" y2="672.6"/><line x1="187.4" y1="505.2" x2="196.1" y2="719.2"/><line x1="334.4" y1="461.5" x2="307.2" y2="666.2"/><line x1="353.1" y1="512.3" x2="401.1" y2="728.6"/></g><rect x="2.5" y="67.5" width="644" height="283.8" rx="14" ry="14" fill="none" stroke="#000" stroke-width="1.3"/><rect x="2.6" y="376.5" width="645.8" height="202" rx="10" ry="10" fill="none" stroke="#000" stroke-width="1.1"/><rect x="3.5" y="599.7" width="645" height="238.8" rx="11.5" ry="11.5" fill="none" stroke="#000" stroke-width="1.1"/><rect x="640" y="181.6" width="14" height="35.6" fill="#fff"/><rect x="640" y="399.5" width="14" height="150.7" fill="#fff"/><rect x="640" y="617.8" width="14" height="201.6" fill="#fff"/><line x1="209.5" y1="34.2" x2="172.8" y2="91.2" stroke="#f00" stroke-width="1.8"/><polyline points="173.5,80.8 172.6,91.8 182,86.6" fill="none" stroke="#f00" stroke-width="1.8" stroke-linejoin="miter"/><g><path d="M132.60,421.40 L132.60,524.30 A51.60,11.10 0 0 0 235.80,524.30 L235.80,421.40 A51.60,11.10 0 0 1 132.60,421.40 Z" fill="rgb(255,204,0)" fill-opacity="0.8" stroke="#000" stroke-width="2"/><path d="M132.60,453.50 A51.60,12.50 0 0 0 235.80,453.50" fill="none" stroke="#000" stroke-width="1" stroke-dasharray="1,1.5"/><ellipse cx="184.20" cy="421.40" rx="51.60" ry="11.10" fill="rgb(255,223,102)" fill-opacity="0.8" stroke="#000" stroke-width="2"/></g><g><path d="M291.30,421.40 L291.30,525.20 A51.60,11.10 0 0 0 394.50,525.20 L394.50,421.40 A51.60,11.10 0 0 1 291.30,421.40 Z" fill="rgb(255,255,0)" fill-opacity="0.8" stroke="#000" stroke-width="2"/><path d="M291.30,476.00 A51.60,12.00 0 0 0 394.50,476.00" fill="none" stroke="#000" stroke-width="1" stroke-dasharray="1,1.5"/><ellipse cx="342.90" cy="421.40" rx="51.60" ry="11.10" fill="rgb(255,255,102)" fill-opacity="0.8" stroke="#000" stroke-width="2"/></g><g><path d="M70.40,649.75 L70.40,680.25 A52.10,9.05 0 0 0 174.60,680.25 L174.60,649.75 A52.10,9.05 0 0 1 70.40,649.75 Z" fill="rgb(255,204,0)" fill-opacity="0.8" stroke="#000" stroke-width="2"/><ellipse cx="122.50" cy="649.75" rx="52.10" ry="9.05" fill="rgb(255,223,102)" fill-opacity="0.8" stroke="#000" stroke-width="2"/></g><g><path d="M147.60,698.25 L147.60,748.65 A51.45,8.65 0 0 0 250.50,748.65 L250.50,698.25 A51.45,8.65 0 0 1 147.60,698.25 Z" fill="rgb(255,204,0)" fill-opacity="0.8" stroke="#000" stroke-width="2"/><ellipse cx="199.05" cy="698.25" rx="51.45" ry="8.65" fill="rgb(255,223,102)" fill-opacity="0.8" stroke="#000" stroke-width="2"/></g><g><path d="M266.20,640.70 L266.20,686.90 A51.85,8.40 0 0 0 369.90,686.90 L369.90,640.70 A51.85,8.40 0 0 1 266.20,640.70 Z" fill="rgb(255,255,0)" fill-opacity="0.8" stroke="#000" stroke-width="2"/><ellipse cx="318.05" cy="640.70" rx="51.85" ry="8.40" fill="rgb(255,255,102)" fill-opacity="0.8" stroke="#000" stroke-width="2"/></g><g><path d="M344.10,704.80 L344.10,749.70 A52.35,8.40 0 0 0 448.80,749.70 L448.80,704.80 A52.35,8.40 0 0 1 344.10,704.80 Z" fill="rgb(255,255,0)" fill-opacity="0.8" stroke="#000" stroke-width="2"/><ellipse cx="396.45" cy="704.80" rx="52.35" ry="8.40" fill="rgb(255,255,102)" fill-opacity="0.8" stroke="#000" stroke-width="2"/></g><text x="155.40" y="20.05" font-family="Liberation Sans, sans-serif" font-size="23.7" letter-spacing="0.081" fill="#000" xml:space="preserve">Disk heartbeat-dedicated LUN</text><text x="568.90" y="205.70" font-family="Liberation Sans, sans-serif" font-size="23.7" letter-spacing="0.130" fill="#000" xml:space="preserve">Actual disk</text><text x="542.50" y="424.20" font-family="Liberation Sans, sans-serif" font-size="23.7" letter-spacing="0.333" fill="#000" xml:space="preserve">Disk group</text><text x="542.50" y="452.80" font-family="Liberation Sans, sans-serif" font-size="23.7" letter-spacing="0.179" fill="#000" xml:space="preserve">(Virtual disks)</text><text x="542.50" y="510.00" font-family="Liberation Sans, sans-serif" font-size="23.7" letter-spacing="0.000" fill="#000" xml:space="preserve">resource in</text><text x="542.50" y="538.60" font-family="Liberation Sans, sans-serif" font-size="23.7" letter-spacing="0.000" fill="#000" xml:space="preserve">EXPRESSCLUSTER</text><text x="542.6" y="481.40" font-family="Liberation Sans, sans-serif" font-size="23.7" letter-spacing="-1">VxVM</text><text x="613.3" y="481.40" font-family="Liberation Sans, sans-serif" font-size="23.7" letter-spacing="0.33" xml:space="preserve">disk group</text><text x="535.20" y="641.70" font-family="Liberation Sans, sans-serif" font-size="23.7" letter-spacing="0.100" fill="#000" xml:space="preserve">Volume</text><text x="535.20" y="670.35" font-family="Liberation Sans, sans-serif" font-size="23.7" letter-spacing="0.145" fill="#000" xml:space="preserve">(Partitions allocated</text><text x="535.20" y="699.00" font-family="Liberation Sans, sans-serif" font-size="23.7" letter-spacing="0.207" fill="#000" xml:space="preserve">from disk group)</text><text x="535.20" y="756.30" font-family="Liberation Sans, sans-serif" font-size="23.7" letter-spacing="0.080" fill="#000" xml:space="preserve">resource in</text><text x="535.20" y="784.95" font-family="Liberation Sans, sans-serif" font-size="23.7" letter-spacing="0.000" fill="#000" xml:space="preserve">EXPRESSCLUSTER</text><text x="536" y="727.65" font-family="Liberation Sans, sans-serif" font-size="23.7" letter-spacing="-1">VxVM</text><text x="606.5" y="727.65" font-family="Liberation Sans, sans-serif" font-size="23.7" letter-spacing="0.13" xml:space="preserve">disk volume</text><text x="87.30" y="476.80" font-family="Liberation Sans, sans-serif" font-size="19.5" letter-spacing="0.000" fill="#000" xml:space="preserve">dg1</text><text x="420.60" y="474.80" font-family="Liberation Sans, sans-serif" font-size="19.5" letter-spacing="0.300" fill="#000" xml:space="preserve">dg2</text><text x="70.30" y="708.50" font-family="Liberation Sans, sans-serif" font-size="19.5" letter-spacing="0.400" fill="#000" xml:space="preserve">vxvol1</text><text x="175.70" y="778.70" font-family="Liberation Sans, sans-serif" font-size="19.5" letter-spacing="0.800" fill="#000" xml:space="preserve">vxvol2</text><text x="275.80" y="717.70" font-family="Liberation Sans, sans-serif" font-size="19.5" letter-spacing="0.700" fill="#000" xml:space="preserve">vxvol3</text><text x="392.80" y="782.70" font-family="Liberation Sans, sans-serif" font-size="19.5" letter-spacing="0.680" fill="#000" xml:space="preserve">vxvol4</text>
</svg>
</body></html>
